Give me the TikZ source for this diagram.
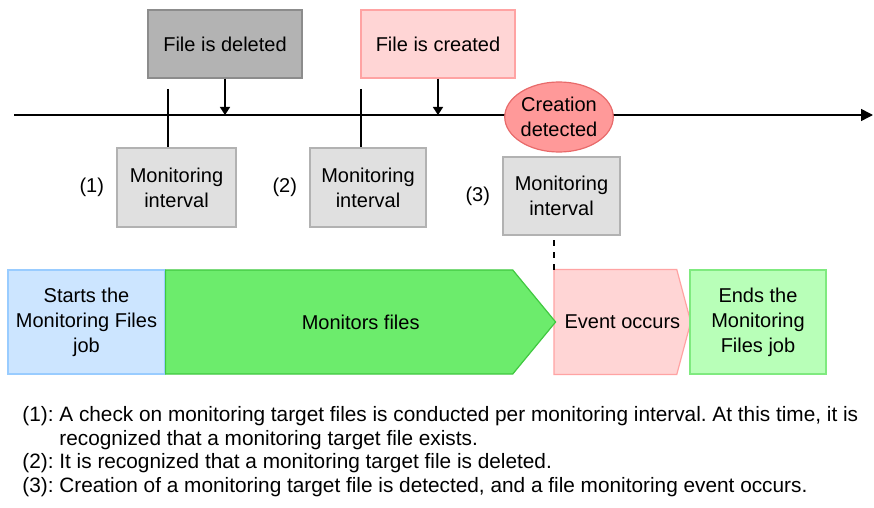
\documentclass[tikz,border=0pt]{standalone}
\usepackage{fontspec}
\setmainfont{Liberation Sans}
\usetikzlibrary{arrows.meta, positioning, shapes.geometric, shapes.symbols, calc, backgrounds}
\definecolor{delgray}{HTML}{B3B3B3}
\definecolor{delline}{HTML}{8C8C8C}
\definecolor{crepink}{HTML}{FFD5D5}
\definecolor{creline}{HTML}{FFA3A3}
\definecolor{intgray}{HTML}{E0E0E0}
\definecolor{intline}{HTML}{B2B2B2}
\definecolor{detred}{HTML}{FF9999}
\definecolor{detline}{HTML}{E86A6A}
\definecolor{jobblue}{HTML}{CCE5FF}
\definecolor{jobline}{HTML}{99CCFF}
\definecolor{mongreen}{HTML}{6CEC6C}
\definecolor{monline}{HTML}{40C840}
\definecolor{endgreen}{HTML}{B8FFB8}
\definecolor{endline}{HTML}{7FEA7F}
\frenchspacing

\begin{document}
\begin{tikzpicture}[x=0.5pt, y=-0.5pt,
  lbl/.style={font=\fontsize{10}{12.5}\selectfont, align=center, inner sep=0pt},
  box/.style={lbl, draw, line width=0.6pt},
  interval/.style={box, fill=intgray, draw=intline},
  note/.style={font=\fontsize{10.4}{12}\selectfont, inner sep=0pt, anchor=base west},
  tip/.style={-{Triangle[width=5pt, length=4pt]}, line width=0.75pt}]
\useasboundingbox (0,0) rectangle (874,508);

% Events on top
\node[box, fill=delgray, draw=delline, minimum width=77pt, minimum height=34pt] (del) at (225,44) {File is deleted};
\node[box, fill=crepink, draw=creline, minimum width=77pt, minimum height=34pt] (cre) at (438,44) {File is created};

% Time axis
\coordinate (ax0) at (14,115);
\coordinate (ax1) at (873,115);
\draw[tip, -{Triangle[width=6pt, length=6pt]}] (ax0) -- (ax1);
\draw[tip] (del.south) -- (del.south |- ax0);
\draw[tip] (cre.south) -- (cre.south |- ax0);

% Monitoring intervals
\node[interval, minimum width=59.5pt, minimum height=39.5pt] (mon1) at (176.5,187.5) {Monitoring\\interval};
\node[interval, minimum width=58pt, minimum height=39.5pt] (mon2) at (368,187.5) {Monitoring\\interval};
\node[interval, minimum width=58.5pt, minimum height=39pt] (mon3) at (561.5,196) {Monitoring\\interval};
\node[lbl, left=6pt of mon1] (n1) {(1)};
\node[lbl, left=6pt of mon2] (n2) {(2)};
\node[lbl, left=6pt of mon3] (n3) {(3)};

\coordinate (tick1) at (168,89);
\coordinate (tick2) at (361,89);
\draw[line width=0.75pt] (tick1) -- (tick1 |- mon1.north);
\draw[line width=0.75pt] (tick2) -- (tick2 |- mon2.north);

\node[lbl, ellipse, fill=detred, draw=detline, line width=0.6pt, minimum width=51pt, minimum height=35pt] (det) at (559,117) {Creation\\detected};

% Job flow
\node[box, fill=jobblue, draw=jobline, minimum width=78.5pt, minimum height=52pt] (start) at (86.5,322) {Starts the\\Monitoring Files\\job};
\node[lbl, minimum width=68pt, minimum height=52pt, anchor=west] (evt) at (554,322) {Event occurs};
\begin{scope}[on background layer]
  \draw[fill=crepink, draw=creline, line width=0.6pt] (evt.north west) -- ($(evt.north east)+(-14,0)$) -- (evt.east) -- ($(evt.south east)+(-14,0)$) -- (evt.south west) -- cycle;
\end{scope}
\node[box, signal, signal to=east, signal pointer angle=101, fill=mongreen, draw=monline, minimum width=195pt, minimum height=52pt, anchor=west] (monf) at (165,322) {\hspace*{21.5pt}Monitors files};
\node[box, fill=endgreen, draw=endline, minimum width=68pt, minimum height=52pt] (ends) at (758,322) {Ends the\\Monitoring\\Files job};
\draw[dashed, line width=0.75pt] (evt.north west) -- (evt.north west |- mon3.south);

% Notes
\node[note] (t1) at (22,421) {(1):~A check on monitoring target files is conducted per monitoring interval. At this time, it is};
\node[note] (t1b) at (22,445) {\phantom{(1):~}recognized that a monitoring target file exists.};
\node[note] (t2) at (22,468) {(2):~It is recognized that a monitoring target file is deleted.};
\node[note] (t3) at (22,492) {(3):~Creation of a monitoring target file is detected, and a file monitoring event occurs.};
\end{tikzpicture}
\end{document}
